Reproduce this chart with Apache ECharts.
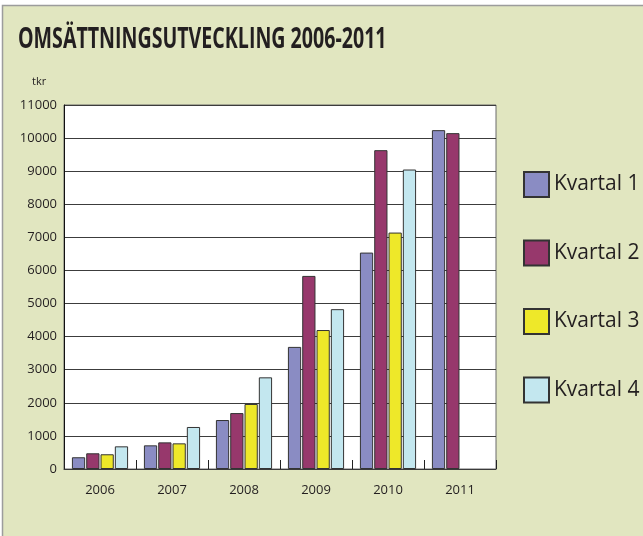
<!DOCTYPE html>
<html>
<head>
<meta charset="utf-8">
<script src="https://cdn.jsdelivr.net/npm/echarts@6/dist/echarts.min.js"></script>
<style>
html,body{margin:0;padding:0;background:#fff;}
#c{width:643px;height:536px;}
</style>
</head>
<body>
<div id="c"></div>
<script>
var years = ['2006', '2007', '2008', '2009', '2010', '2011'];
var seriesNames = ['Kvartal 1', 'Kvartal 2', 'Kvartal 3', 'Kvartal 4'];
var kvartal1 = [355, 715, 1480, 3690, 6540, 10240];
var kvartal2 = [475, 805, 1690, 5835, 9635, 10150];
var kvartal3 = [445, 775, 1965, 4200, 7145, null];
var kvartal4 = [685, 1270, 2770, 4830, 9050, null];
var colors = ['#8a8cc3', '#97386c', '#eee829', '#c3e7ef'];
var yMin = 0, yMax = 11000, yStep = 1000;

var chart = echarts.init(document.getElementById('c'), null, {renderer: 'canvas'});
var values = [kvartal1, kvartal2, kvartal3, kvartal4];
var font = '"Open Sans", sans-serif';

chart.setOption({
  animation: false,
  backgroundColor: '#fff',
  graphic: [
    {type: 'rect', z: -10, shape: {x: 2.5, y: 5.5, width: 660, height: 560},
     style: {fill: '#e1e6c0', stroke: '#9c9c9c', lineWidth: 1.5}},
    {type: 'text', left: 18, top: 26, z: 10, scaleX: 0.7,
     style: {text: 'OMSÄTTNINGSUTVECKLING 2006-2011', fill: '#231f20',
             font: 'bold 28px "Open Sans", sans-serif'}},
    {type: 'text', left: 32, top: 76, style: {text: 'tkr', fill: '#231f20', font: '11px "Open Sans", sans-serif'}}
  ],
  grid: {left: 64, top: 105, width: 432, height: 364, show: true,
         backgroundColor: '#ffffff', borderColor: '#6a6a6a', borderWidth: 1},
  legend: {
    orient: 'vertical', left: 523, top: 171, padding: 0,
    itemWidth: 25, itemHeight: 25, itemGap: 41.5,
    icon: 'rect',
    textStyle: {fontFamily: font, fontSize: 21, color: '#231f20'},
    data: seriesNames
  },
  xAxis: {
    type: 'category', data: years,
    axisLine: {lineStyle: {color: '#3a3a3a', width: 1}},
    axisTick: {show: true, inside: true, length: 9, lineStyle: {color: '#222'}},
    axisLabel: {fontFamily: font, fontSize: 13, color: '#231f20', margin: 15}
  },
  yAxis: {
    type: 'value', min: yMin, max: yMax, interval: yStep,
    axisLine: {show: true, lineStyle: {color: '#111', width: 1}},
    axisTick: {show: false},
    axisLabel: {fontFamily: font, fontSize: 13, color: '#231f20', margin: 7,
                formatter: function (v) { return String(v); }},
    splitLine: {lineStyle: {color: '#3c3c3c', width: 1}}
  },
  series: seriesNames.map(function (n, i) {
    return {
      name: n, type: 'bar', data: values[i],
      barCategoryGap: '22%', barGap: '8%',
      itemStyle: {color: colors[i], borderColor: '#333', borderWidth: 1}
    };
  })
});
</script>
</body>
</html>
